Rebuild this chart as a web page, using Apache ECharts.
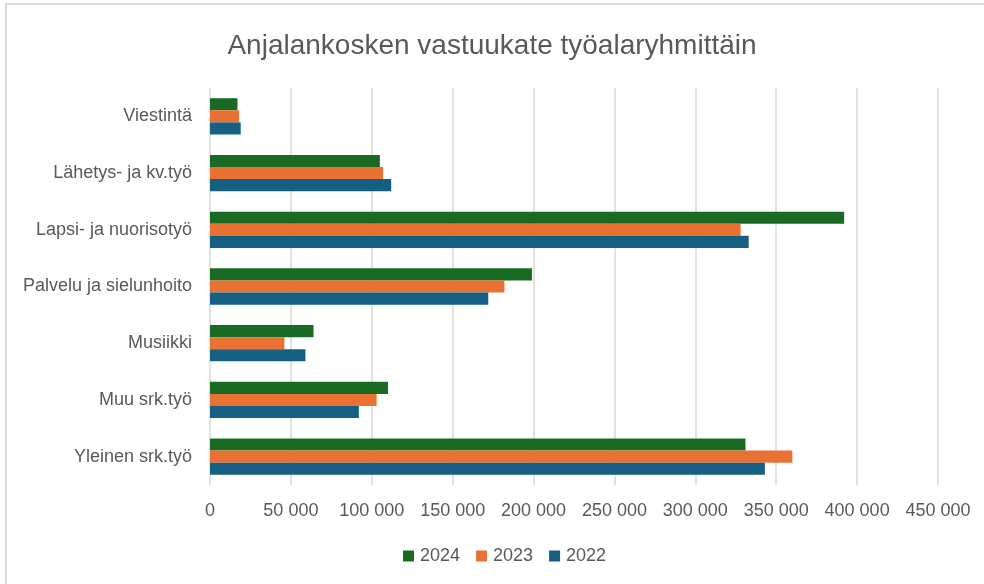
<!DOCTYPE html>
<html>
<head>
<meta charset="utf-8">
<title>Anjalankosken vastuukate</title>
<script src="https://cdn.jsdelivr.net/npm/echarts@6/dist/echarts.min.js"></script>
<style>
    html, body { margin: 0; padding: 0; background: #fff; }
    #frame {
        position: absolute; left: 5px; top: 3px; width: 990px; height: 600px;
        border-top: 2px solid #d9d9d9; border-left: 2px solid #d9d9d9;
    }
    #chart { position: absolute; left: 0; top: 0; width: 984px; height: 584px; }
</style>
</head>
<body>
<div id="frame"></div>
<div id="chart"></div>
<script>
// data
var categories = ['Viestintä', 'Lähetys- ja kv.työ', 'Lapsi- ja nuorisotyö',
    'Palvelu ja sielunhoito', 'Musiikki', 'Muu srk.työ', 'Yleinen srk.työ'];
var years = ['2024', '2023', '2022'];
var v2024 = [17000, 105000, 392000, 199000, 64000, 110000, 331000];
var v2023 = [18000, 107000, 328000, 182000, 46000, 103000, 360000];
var v2022 = [19000, 112000, 333000, 172000, 59000, 92000, 343000];
var xTicks = [0, 450000, 50000]; // min, max, step

var font = '"Liberation Sans", Arial, sans-serif';
var txt = '#595959';

var chart = echarts.init(document.getElementById('chart'));
chart.setOption({
    color: ['#196b24', '#e97132', '#156082'],
    title: {
        text: 'Anjalankosken vastuukate työalaryhmittäin',
        left: 'center',
        top: 27,
        textStyle: { fontFamily: font, fontSize: 28, fontWeight: 'normal', color: txt }
    },
    legend: {
        data: years,
        bottom: 14,
        left: 398,
        icon: 'rect',
        itemWidth: 11,
        itemHeight: 11,
        itemGap: 16,
        textStyle: { fontFamily: font, fontSize: 18, color: txt, padding: [0, 0, 0, 1] }
    },
    grid: { left: 210, right: 46, top: 88, bottom: 99, containLabel: false },
    xAxis: {
        type: 'value',
        min: xTicks[0],
        max: xTicks[1],
        interval: xTicks[2],
        axisLine: { show: false },
        axisTick: { show: false },
        splitLine: { lineStyle: { color: '#d9d9d9', width: 1.5 } },
        axisLabel: {
            fontFamily: font, fontSize: 18, color: txt, margin: 17,
            formatter: function (v) {
                return String(v).replace(/\B(?=(\d{3})+(?!\d))/g, ' ');
            }
        }
    },
    yAxis: {
        type: 'category',
        inverse: true,
        data: categories,
        axisLine: { show: false },
        axisTick: { show: false },
        axisLabel: { fontFamily: font, fontSize: 18, color: txt, margin: 18 }
    },
    series: [
        { name: years[0], type: 'bar', data: v2024, barGap: '0%', barCategoryGap: '36%' },
        { name: years[1], type: 'bar', data: v2023 },
        { name: years[2], type: 'bar', data: v2022 }
    ]
});
</script>
</body>
</html>
